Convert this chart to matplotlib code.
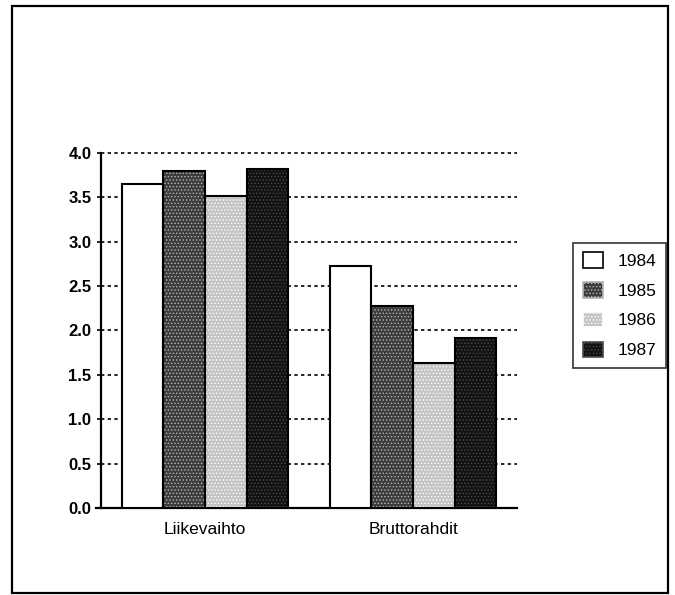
import matplotlib.pyplot as plt
from matplotlib.patches import Rectangle
import numpy as np

# Daten
kategoriat = ['Liikevaihto', 'Bruttorahdit']
vuodet = ['1984', '1985', '1986', '1987']
arvot_1984 = [3.65, 2.73]
arvot_1985 = [3.80, 2.28]
arvot_1986 = [3.52, 1.63]
arvot_1987 = [3.82, 1.92]
y_tikit = [0.0, 0.5, 1.0, 1.5, 2.0, 2.5, 3.0, 3.5, 4.0]

sarjat = [arvot_1984, arvot_1985, arvot_1986, arvot_1987]
varit = ['white', '#3c3c3c', '#c4c4c4', '#121212']
pisteet = [None, '#b5b5b5', '#ffffff', '#4a4a4a']

plt.rcParams['font.family'] = ['Liberation Sans', 'DejaVu Sans']
plt.rcParams['hatch.linewidth'] = 0.6

fig = plt.figure(figsize=(6.75, 5.95), dpi=100)
ax = fig.add_axes([0.1496, 0.1462, 0.6164, 0.5967])

x = np.arange(len(kategoriat))
leveys = 0.2
for i, (arvot, vari, piste) in enumerate(zip(sarjat, varit, pisteet)):
    pos = x + (i - 1.5) * leveys
    if piste is not None:
        ax.bar(pos, arvot, leveys, color=vari, edgecolor=piste, hatch='.....',
               linewidth=0, zorder=3)
    ax.bar(pos, arvot, leveys, facecolor='none' if piste else vari,
           edgecolor='black', linewidth=1.5, zorder=4)

ax.set_xlim(-0.5, 1.5)
ax.set_ylim(0, 4.0)
ax.set_yticks(y_tikit)
ax.set_yticklabels([f'{v:.1f}' for v in y_tikit], fontweight='bold', fontsize=12)
ax.set_xticks(x)
ax.set_xticklabels(kategoriat, fontsize=12.5)
ax.tick_params(axis='x', length=0, pad=10)
ax.tick_params(axis='y', length=3, width=1.2, pad=4)

for v in y_tikit[1:]:
    ax.axhline(v, color='black', linestyle=(0, (2, 2)), linewidth=1.2, zorder=1,
               clip_on=False)

for s in ['top', 'right']:
    ax.spines[s].set_visible(False)
ax.spines['left'].set_linewidth(1.6)
ax.spines['bottom'].set_linewidth(1.6)
ax.spines['bottom'].set_bounds(-0.525, 1.5)
ax.spines['bottom'].set_clip_on(False)

# Selite
selite_kahvat = []
for vari, piste in zip(varit, pisteet):
    if piste is None:
        selite_kahvat.append(Rectangle((0, 0), 1, 1, facecolor=vari, edgecolor='black', linewidth=1.2))
    else:
        selite_kahvat.append(Rectangle((0, 0), 1, 1, facecolor=vari, edgecolor=piste,
                                       hatch='.....', linewidth=1.2))
leg = fig.legend(selite_kahvat, vuodet, loc='upper left', bbox_to_anchor=(0.849, 0.592),
                 fontsize=12.5, frameon=True, fancybox=False, edgecolor='black',
                 handlelength=1.2, handleheight=1.0, handletextpad=0.8,
                 borderpad=0.55, labelspacing=0.75, borderaxespad=0)
leg.get_frame().set_linewidth(1.2)

# Kehys
fig.patches.append(Rectangle((12 / 675, 1 - 593 / 595), 656 / 675, 587 / 595,
                             transform=fig.transFigure, fill=False,
                             edgecolor='black', linewidth=1.6))

fig.savefig('out.png', dpi=100)
